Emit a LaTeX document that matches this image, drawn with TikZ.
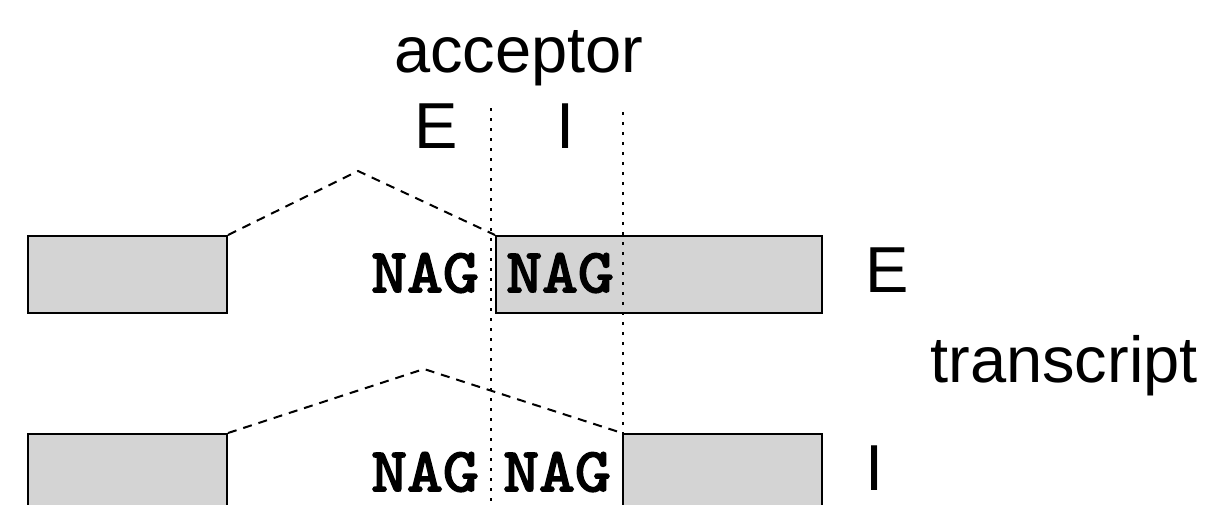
\documentclass[tikz,border=0pt]{standalone}
\usepackage{fontspec}
\setmainfont{Liberation Sans}
\newfontfamily\seqfont[FakeBold=3,FakeStretch=1.1]{lmmono10-regular.otf}
\definecolor{boxgray}{RGB}{212,212,212}
\tikzset{
  exonbox/.style={draw=black, fill=boxgray, line width=2pt, inner sep=0pt, minimum width=199pt, minimum height=77pt},
  intronline/.style={line width=2pt, dash pattern=on 9pt off 7pt},
  siteline/.style={line width=2.2pt, dash pattern=on 3pt off 7pt},
  bigtext/.style={font=\fontsize{65}{65}\selectfont, inner sep=0pt, anchor=base},
  seqtext/.style={font=\seqfont\fontsize{62}{62}\selectfont, inner sep=0pt, anchor=base},
}
\begin{document}
\begin{tikzpicture}[x=1pt,y=-1pt]
\useasboundingbox (0,0) rectangle (1209,504);
\clip (0,0) rectangle (1209,504);
% boxes
\node[exonbox] (tl) at (127.5,274.5) {};
\node[exonbox, minimum width=326pt] (tr) at (659,274.5) {};
\node[exonbox] (bl) at (127.5,472.5) {};
\node[exonbox] (br) at (722.5,472.5) {};
% dotted guides
\coordinate (d1t) at (491,108);
\coordinate (d1b) at (491,504);
\coordinate (d2t) at (623,112);
\coordinate (d2b) at (623,504);
\draw[siteline] (d1t) -- (d1b);
\draw[siteline] (d2t) -- (d2b);
% introns
\coordinate (p1) at (358,171);
\coordinate (p2) at (424,369);
\draw[intronline] (tl.north east) -- (p1) -- (tr.north west);
\draw[intronline] (bl.north east) -- (p2) -- (br.north west);
% labels
\node[bigtext] (acc) at (519,72) {acceptor};
\node[bigtext] (le) at (436,148) {E};
\node[bigtext] (li) at (566,148) {I};
\node[bigtext] (re) at (887,292) {E};
\node[bigtext] (tx) at (1064,382) {transcript};
\node[bigtext] (ri) at (875,490) {I};
\node[seqtext] (n1) at (425,292) {NAG};
\node[seqtext] (n2) at (560,292) {NAG};
\node[seqtext] (n3) at (425,491) {NAG};
\node[seqtext] (n4) at (557,491) {NAG};
\end{tikzpicture}
\end{document}
